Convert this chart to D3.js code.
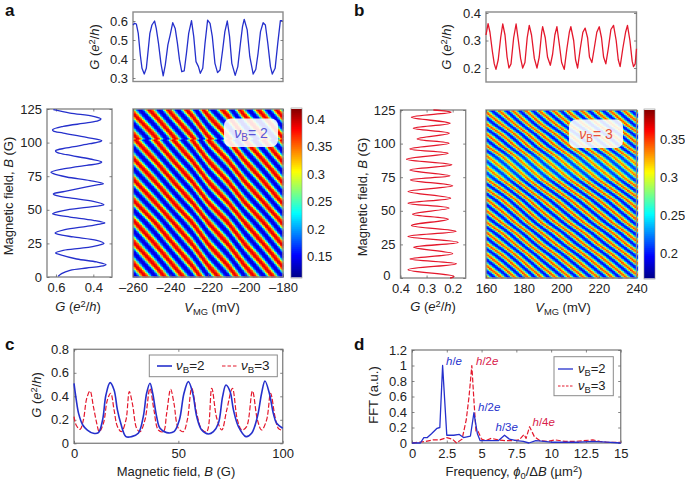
<!DOCTYPE html>
<html><head><meta charset="utf-8">
<script src="https://cdn.jsdelivr.net/npm/d3@7"></script>
<style>
html,body{margin:0;padding:0;background:#fff}
svg{display:block}
text{font-family:"Liberation Sans",Arial,sans-serif;fill:#222}
</style></head><body><div id="chart"></div>
<script>
// ---------- data ----------
const aTopV=[-260,-259.1,-258.2,-257.2,-256.1,-255.2,-254,-252.9,-251.9,-251,-249.9,-248.5,-247.6,-246.4,-245.1,-243.9,-242.8,-241.4,-240.2,-238.8,-237.5,-236.3,-235.2,-234,-232.7,-231.5,-230.3,-228.8,-227.6,-226.4,-225.1,-224.1,-222.8,-221.6,-220.2,-218.9,-217.7,-216.3,-214.9,-213.6,-212.2,-211,-209.7,-208.5,-207.3,-205.5,-204.1,-202.7,-201.6,-200.7,-199.1,-197.7,-195.9,-194.5,-193.3,-192,-190.6,-189.4,-188.1,-186.7,-185.7,-184.2,-182.8,-181.4,-180.3];
const aTopG=[.579,.588,.584,.535,.421,.351,.321,.351,.447,.535,.579,.6,.561,.482,.377,.311,.368,.474,.526,.591,.561,.482,.395,.333,.337,.43,.535,.602,.518,.386,.36,.325,.351,.482,.605,.588,.518,.377,.328,.342,.447,.544,.6,.518,.377,.314,.36,.482,.57,.609,.553,.412,.321,.346,.43,.544,.591,.579,.482,.36,.321,.351,.482,.602,.602];
const bTopV=[160,161.1,162.1,163.4,164.4,165.3,166.5,167.8,168.9,170.1,171.2,172.2,173.3,174.7,176,177.2,178.4,179.5,180.7,181.9,183,184.2,185.7,187.1,188.3,189.6,190.1,191.5,192.7,194.2,195.4,196.6,197.7,198.9,200.2,201.6,203,204.3,205.1,206.6,207.6,208.7,210.1,211.5,212.7,214,215,216.3,217.5,218.9,220.2,221.4,222.5,223.7,225,226.4,227.8,229.2,230.3,231.3,232.7,234.2,235.2,236.5,237.7,238.4,239.3,240];
const bTopG=[.32,.361,.33,.26,.215,.195,.23,.31,.36,.32,.24,.2,.215,.31,.36,.3,.235,.2,.22,.31,.355,.32,.235,.2,.24,.33,.35,.31,.24,.21,.25,.32,.35,.29,.22,.195,.27,.33,.35,.3,.23,.2,.27,.33,.345,.31,.24,.22,.27,.33,.35,.31,.24,.215,.27,.34,.355,.3,.23,.205,.27,.33,.355,.3,.225,.205,.215,.27];
const aLeftB=[.5,2.5,5,6.7,7.9,9.2,11.2,13.4,16.6,17.9,19.8,21.6,23.6,25,27.3,29.8,31.7,32.7,35.2,37.7,39.4,40.2,42.2,44.6,46.4,47.1,49.4,51.8,53.1,53.8,56.3,58.8,60.5,61.8,63.7,67,68.7,69.4,71.7,74.4,76.9,77.9,80.4,83.1,84.3,85.6,87.8,91,92.8,94,96,99.2,100.7,101.4,103.9,107.1,108.6,109.6,112.1,114.6,116.3,117.6,119.5,122,124.5];
const aLeftG=[.588,.57,.525,.436,.364,.332,.382,.489,.579,.602,.561,.454,.373,.343,.382,.507,.588,.605,.552,.436,.364,.338,.4,.525,.605,.618,.561,.436,.364,.343,.4,.525,.596,.614,.552,.436,.373,.346,.418,.543,.614,.627,.561,.436,.373,.355,.418,.543,.596,.602,.543,.418,.364,.355,.436,.561,.614,.618,.561,.436,.373,.359,.4,.525,.614];
const bLeftB=[0,1.2,6.2,10.6,14.1,18.1,22.8,26.5,30.9,34.7,39.1,43.8,47.5,52,55.7,59.4,64.4,68.6,73,76,80.4,84.2,88.4,92.8,96,100.2,103.5,107.7,111.4,115.1,119.6,123.3,125];
const bLeftG=[.21,.195,.371,.185,.364,.2,.349,.179,.371,.187,.358,.217,.354,.214,.371,.208,.371,.2,.362,.21,.364,.203,.377,.217,.364,.214,.336,.213,.351,.21,.358,.206,.274];
const cB2x=[0,1,2.2,4.2,6.4,9.3,11.7,13.7,15.3,17.3,19.2,20.8,22.4,24.9,27.6,30.8,33.2,34.8,36.4,37.7,39.6,41.2,44.4,47.9,50.5,52.7,54.8,56.9,58.8,61.2,64.4,66.8,69.2,71.2,72.8,74.8,76.4,78.8,82.4,85.1,87.9,89.9,91.5,93.6,95.5,97.1,100];
const cB2y=[.51,.38,.255,.156,.113,.085,.091,.199,.411,.516,.454,.284,.17,.057,.057,.085,.227,.426,.511,.426,.227,.128,.091,.099,.199,.426,.525,.426,.227,.113,.079,.099,.17,.397,.496,.44,.284,.142,.057,.085,.227,.426,.53,.426,.255,.17,.128];
const cB3x=[0,1,2.9,4.5,6.1,7.7,9.3,10.9,12.1,14.1,16,17.6,19.2,20.8,22.7,24.9,26.5,28.1,30,31.6,34,36.4,38.3,40.4,42.8,44.4,46.3,47.9,50,52.4,54.3,56.4,58.8,61.2,63.6,66,68.4,70.8,73.2,75.9,78.3,80.4,82.7,85.5,87.9,89.9,92.3,94.2,96.3,97.9,100];
const cB3y=[.227,.156,.119,.199,.383,.445,.312,.17,.099,.17,.369,.426,.284,.142,.099,.199,.44,.326,.128,.099,.199,.468,.284,.113,.099,.255,.46,.34,.128,.099,.199,.468,.255,.119,.099,.468,.213,.113,.284,.468,.199,.113,.142,.445,.199,.113,.199,.426,.227,.128,.108];
const dB2x=[0,.6,.85,1.1,1.4,1.8,2,2.2,2.5,3,3.4,3.7,4.2,4.45,4.7,4.9,5.5,6.2,6.65,7,7.5,8,8.4,8.9,9.5,10,11,12,13,14,15];
const dB2y=[0,0,.07,.07,.12,.19,.2,1,.1,.1,.11,.07,.09,.39,.12,.03,.03,.03,.1,.05,.03,.02,0,.03,.02,.01,.01,.01,.02,.01,0];
const dB3x=[0,1,1.5,2,2.5,2.9,3.2,3.6,3.9,4.1,4.3,4.45,4.6,4.75,5,5.3,5.7,6.2,6.7,7.2,7.7,8.05,8.2,8.45,8.8,9.2,9.7,10.3,11,11.7,12.3,13,13.5,14,15];
const dB3y=[0,.02,.04,.04,.07,.05,0,.05,.3,.6,1,.55,.15,.15,.05,.03,.06,.04,.03,.03,.04,.11,.06,.21,.08,.03,.02,.04,.02,.02,.03,.04,.02,.01,.01];
// stripe crests of the two maps, and conductance across one stripe period
const aCrestV=[-259,-248.5,-238.8,-228.8,-220.2,-209.7,-200.7,-190.6,-181];
const aCrestB=[9,25,41,56,71.5,87,101.9,102,120.5,136];
const aCrestN=[0,1,2,3,4,5,5.96,5.8,7,8];
const bCrestV=[161.1,168.9,176,183,190.1,197.7,205.1,212.7,220.2,227.8,235.2];
const bCrestB=[8.4,17,24.6,33.2,40.7,49.3,58,65.5,73,81.6,90.3,97.7,106.4,113.8,122.5];
const bCrestN=[0,1,2,3,4,5,6,7,8,9,10,11,12,13,14];
const stripePhase=[0,.1,.2,.3,.4,.5,.6,.7,.8,.9,1];
const aStripeG=[.392,.38,.348,.25,.172,.142,.14,.165,.25,.348,.392];
const bStripeG=[.352,.34,.312,.265,.222,.2,.195,.208,.25,.308,.352];
// weaker stripes of map b, in the band seen at 72-92 G
const bBandB=[0,70,76,88,94,125];
const bBandK=[1,1,.86,.86,1,1];
const jetStops=[0,.125,.375,.625,.875,1];
const jetColors=["#00008f","#0000ff","#00ffff","#ffff00","#ff0000","#800000"];
const aBarDomain=[.113,.418], bBarDomain=[.168,.389];
const aBarTicks=[.15,.2,.25,.3,.35,.4], bBarTicks=[.2,.25,.3,.35];
const colB2="#2530cc", colB3="#e4182c", colLabelRed="#d8204a";

// ---------- helpers ----------
const svg=d3.select("#chart").append("svg").attr("width",685).attr("height",484);
const defs=svg.append("defs");
defs.append("filter").attr("id","soft").attr("x","-2%").attr("y","-2%").attr("width","104%").attr("height","104%")
  .append("feGaussianBlur").attr("stdDeviation",.5);
const FS=13, FRAME="#8a8a8a";
const dash=d=>String(d).replace("-","–");
function frame(L,T,R,B,xs,ys,xt,yt,opts={}){
  const g=svg.append("g");
  g.append("rect").attr("x",L).attr("y",T).attr("width",R-L).attr("height",B-T).attr("fill","none").attr("stroke",FRAME).attr("stroke-width",1.4);
  const tick=(ax,tr,lab)=>{const a=g.append("g").attr("transform",tr).call(ax);
    a.select(".domain").remove();a.selectAll("line").attr("stroke","#666").attr("stroke-width",.8);
    a.selectAll("text").attr("font-size",FS).attr("fill","#222").style("font-family",'"Liberation Sans",Arial,sans-serif');
    if(!lab)a.selectAll("text").remove();return a;};
  if(xt){const f=opts.xf||dash;
    tick(d3.axisBottom(xs).tickValues(xt).tickFormat(f).tickSizeInner(-2.5).tickSizeOuter(0).tickPadding(5.5),`translate(0,${B})`,true);
    tick(d3.axisTop(xs).tickValues(xt).tickSizeInner(-2.5).tickSizeOuter(0),`translate(0,${T})`,false);}
  if(yt){const f=opts.yf||(d=>d);
    const a=tick(d3.axisLeft(ys).tickValues(yt).tickFormat(f).tickSizeInner(-2.5).tickSizeOuter(0).tickPadding(opts.yp||5),`translate(${L},0)`,true);
    if(opts.zeroDx)a.selectAll("text").filter(d=>d===0).attr("dx",opts.zeroDx).attr("dy","0.1em");
    tick(d3.axisRight(ys).tickValues(yt).tickSizeInner(-2.5).tickSizeOuter(0),`translate(${R},0)`,false);}
}
function rich(x,y,parts,o={}){
  const t=svg.append("text").attr("font-size",o.size||FS).attr("text-anchor",o.anchor||"middle");
  if(o.rotate)t.attr("transform",`translate(${x},${y}) rotate(-90)`);else t.attr("x",x).attr("y",y);
  if(o.fill)t.style("fill",o.fill);
  let shift=0;
  parts.forEach(p=>{const s=t.append("tspan").text(p.t);
    if(o.fill)s.style("fill",o.fill);
    if(p.i)s.attr("font-style","italic");
    const want=p.up?-4.5:p.dn?3:0;
    s.attr("dy",want-shift);shift=want;
    if(p.up||p.dn)s.attr("font-size",(o.size||FS)*.72);
  });
  return t;
}
const gLabel=[{t:"G",i:1},{t:" ("},{t:"e",i:1},{t:"2",up:1},{t:"/"},{t:"h",i:1},{t:")"}];
const bLabel=[{t:"Magnetic field, "},{t:"B",i:1},{t:" (G)"}];
const vLabel=[{t:"V",i:1},{t:"MG",dn:1},{t:" (mV)"}];
const nu=n=>[{t:"ν",i:1},{t:"B",dn:1},{t:"= "+n}];
const pointsOf=(xs,ys)=>xs.map((x,i)=>[x,ys[i]]);
function trace(xf,yf,pts,col,curve,w,dashes){
  const l=d3.line().x(d=>xf(d[0])).y(d=>yf(d[1])).curve(curve);
  const p=svg.append("path").datum(pts).attr("d",l).attr("fill","none").attr("stroke",col).attr("stroke-width",w||1.3).attr("stroke-linejoin","round");
  if(dashes)p.attr("stroke-dasharray",dashes);
}
const jet=d3.scaleLinear().domain(jetStops).range(jetColors).interpolate(d3.interpolateRgb).clamp(true);

function heat(L,T,R,B,vDom,crestV,crestB,crestN,stripeG,barDom,barTicks,barL,barR,xt,tag,tagCol,tagX,offset,band){
  const xs=d3.scaleLinear().domain(vDom).range([L,R]);
  const ys=d3.scaleLinear().domain([0,125]).range([B,T]);
  const nV=d3.scaleLinear().domain(crestV).range(crestV.map((_,i)=>i));
  const nB=d3.scaleLinear().domain(crestB).range(crestN);
  const prof=d3.scaleLinear().domain(stripePhase).range(stripeG);
  const col=d3.scaleLinear().domain(barDom).range([0,1]);
  const mid=(stripeG[0]+stripeG[5])/2;
  const dV=xs.invert(L+1.5)-xs.invert(L), dB=ys.invert(T)-ys.invert(T+1.5);
  const cells=d3.cross(d3.range(vDom[0],vDom[1],dV),d3.range(0,125,dB));
  const g=svg.append("g").attr("filter","url(#soft)");
  g.selectAll("rect").data(cells).join("rect")
    .attr("x",d=>xs(d[0])).attr("y",d=>ys(d[1]+dB))
    .attr("width",2.1).attr("height",2.1)
    .attr("fill",d=>{const ph=nV(d[0])+nB(d[1])+offset;
      const v=prof(ph-Math.floor(ph));
      const k=band?band(d[1]):1;
      return jet(col(mid+(v-mid)*k));});
  frame(L,T,R,B,xs,ys,xt,null);
  svg.append("rect").attr("x",tagX).attr("y",T+9.5).attr("width",54).attr("height",28.5).attr("rx",7).attr("fill","#fff").attr("fill-opacity",.88);
  rich(tagX+27,T+28.5,tag,{fill:tagCol,size:14});
  // colour bar
  const by=d3.scaleLinear().domain(barDom).range([B,T]);
  const vals=d3.range(barDom[0],barDom[1],(barDom[1]-barDom[0])/84);
  svg.append("g").selectAll("rect").data(vals).join("rect").attr("x",barL).attr("width",barR-barL)
    .attr("y",d=>by(d)-2).attr("height",2.3).attr("fill",d=>jet(col(d)));
  svg.append("rect").attr("x",barL).attr("y",T-1).attr("width",barR-barL).attr("height",B-T+2).attr("fill","none").attr("stroke",FRAME).attr("stroke-width",.6);
  const a=svg.append("g").attr("transform",`translate(${barR},0)`).call(d3.axisRight(by).tickValues(barTicks).tickFormat(d=>+d.toFixed(2)).tickSizeInner(0).tickSizeOuter(0).tickPadding(5));
  a.select(".domain").remove();a.selectAll("text").attr("font-size",FS).attr("fill","#222").style("font-family",'"Liberation Sans",Arial,sans-serif');
}

// ---------- panel a ----------
{const L=133,R=283,T=12,B=81.5;
 const xs=d3.scaleLinear().domain([-260,-180]).range([L,R]);
 const ys=d3.scaleLinear().domain([.6,.3]).range([21,78]);
 frame(L,T,R,B,xs,ys,null,[.3,.4,.5,.6],{yf:d3.format(".1f")});
 trace(xs,ys,pointsOf(aTopV,aTopG),colB2,d3.curveLinear);
 rich(99,47,gLabel,{rotate:1});
 const lx=d3.scaleLinear().domain([.648,.3]).range([47,112]);
 const ly=d3.scaleLinear().domain([0,125]).range([277,109]);
 frame(47,109,112,277,lx,ly,[.6,.4],[0,25,50,75,100,125],{xf:d3.format(".1f")});
 trace(lx,ly,pointsOf(aLeftG,aLeftB),colB2,d3.curveCatmullRom);
 rich(13,196,bLabel,{rotate:1});
 rich(78,311,gLabel);
 heat(133,109,283,277,[-260,-180],aCrestV,aCrestB,aCrestN,aStripeG,aBarDomain,aBarTicks,291,302,[-260,-240,-220,-200,-180],nu(2),"#5a55d6",224,.095,null);
 rich(212,312,vLabel);
}
// ---------- panel b ----------
{const L=486,R=636.5,T=12,B=82;
 const xs=d3.scaleLinear().domain([160,240]).range([L,R]);
 const ys=d3.scaleLinear().domain([.4,.2]).range([13,68]);
 frame(L,T,R,B,xs,ys,null,[.2,.3,.4],{yf:d3.format(".1f")});
 trace(xs,ys,pointsOf(bTopV,bTopG),colB3,d3.curveLinear);
 rich(451,47,gLabel,{rotate:1});
 const lx=d3.scaleLinear().domain([.4,.15]).range([400.5,465.7]);
 const ly=d3.scaleLinear().domain([0,125]).range([278,110]);
 frame(400.5,110,465.7,278,lx,ly,[.4,.3,.2],[0,25,50,75,100,125],{xf:d3.format(".1f"),zeroDx:-5});
 trace(lx,ly,pointsOf(bLeftG,bLeftB),colB3,d3.curveCatmullRom);
 rich(367,197,bLabel,{rotate:1});
 rich(433,311,gLabel);
 heat(486,110,636.5,278,[160,240],bCrestV,bCrestB,bCrestN,bStripeG,bBarDomain,bBarTicks,644,655,[160,180,200,220,240],nu(3),"#e8503a",569,.14,d3.scaleLinear().domain(bBandB).range(bBandK));
 rich(563,312,vLabel);
}
// ---------- panel c ----------
{const L=74,R=282.7,T=349.3,B=443.3;
 const xs=d3.scaleLinear().domain([0,100]).range([L,R]);
 const ys=d3.scaleLinear().domain([0,.8]).range([B,T]);
 frame(L,T,R,B,xs,ys,[0,50,100],[0,.2,.4,.6,.8],{yf:d=>d===0?"0":d3.format(".1f")(d)});
 trace(xs,ys,pointsOf(cB3x,cB3y),colB3,d3.curveCatmullRom,1.2,"5 2");
 trace(xs,ys,pointsOf(cB2x,cB2y),colB2,d3.curveCatmullRom,1.6);
 rich(41,395,gLabel,{rotate:1});
 rich(176,476,bLabel);
 svg.append("rect").attr("x",149.3).attr("y",355).attr("width",128).attr("height",21.7).attr("fill","#fff").attr("stroke",FRAME).attr("stroke-width",1);
 svg.append("line").attr("x1",157).attr("x2",172).attr("y1",366).attr("y2",366).attr("stroke",colB2).attr("stroke-width",1.6);
 svg.append("line").attr("x1",222).attr("x2",237).attr("y1",366).attr("y2",366).attr("stroke",colB3).attr("stroke-width",1.2).attr("stroke-dasharray","3.5 2");
 rich(176,370,[{t:"ν",i:1},{t:"B",dn:1},{t:"=2"}],{anchor:"start",size:13.5});
 rich(241,370,[{t:"ν",i:1},{t:"B",dn:1},{t:"=3"}],{anchor:"start",size:13.5});
}
// ---------- panel d ----------
{const L=412,R=620.7,T=350,B=443;
 const xs=d3.scaleLinear().domain([0,15]).range([L,R]);
 const ys=d3.scaleLinear().domain([0,1.2]).range([B,T]);
 frame(L,T,R,B,xs,ys,[0,2.5,5,7.5,10,12.5,15],[0,.2,.4,.6,.8,1,1.2],{yf:d=>(d===0||d===1)?d:d3.format(".1f")(d)});
 trace(xs,ys,pointsOf(dB3x,dB3y),colB3,d3.curveLinear,1.2,"5 2");
 trace(xs,ys,pointsOf(dB2x,dB2y),colB2,d3.curveLinear,1.3);
 rich(378,395,[{t:"FFT (a.u.)"}],{rotate:1});
 rich(514,476,[{t:"Frequency, "},{t:"ϕ",i:1},{t:"0",dn:1},{t:"/Δ"},{t:"B",i:1},{t:" (µm"},{t:"2",up:1},{t:")"}]);
 svg.append("rect").attr("x",554).attr("y",356.7).attr("width",59.3).attr("height",39).attr("fill","#fff").attr("stroke",FRAME).attr("stroke-width",1);
 svg.append("line").attr("x1",558).attr("x2",573).attr("y1",369).attr("y2",369).attr("stroke",colB2).attr("stroke-width",1.3);
 svg.append("line").attr("x1",558).attr("x2",573).attr("y1",386).attr("y2",386).attr("stroke",colB3).attr("stroke-width",1).attr("stroke-dasharray","2.5 1.5");
 rich(578,373,[{t:"ν",i:1},{t:"B",dn:1},{t:"=2"}],{anchor:"start"});
 rich(578,390,[{t:"ν",i:1},{t:"B",dn:1},{t:"=3"}],{anchor:"start"});
 const it=(x,y,s,c)=>rich(x,y,[{t:"h",i:1},{t:"/"+(s?s:"")},{t:"e",i:1}],{anchor:"start",fill:c,size:11.5});
 it(446,365,"",colB2);it(476,365,"2",colLabelRed);it(478,411,"2",colB2);it(495.5,431,"3",colB2);it(532.5,425.5,"4",colLabelRed);
}
// panel letters
[["a",5,16],["b",354,16],["c",5,350],["d",354,350]].forEach(d=>
 svg.append("text").attr("x",d[1]).attr("y",d[2]).attr("font-size",17).attr("font-weight","bold").style("fill","#111").text(d[0]));
</script></body></html>
